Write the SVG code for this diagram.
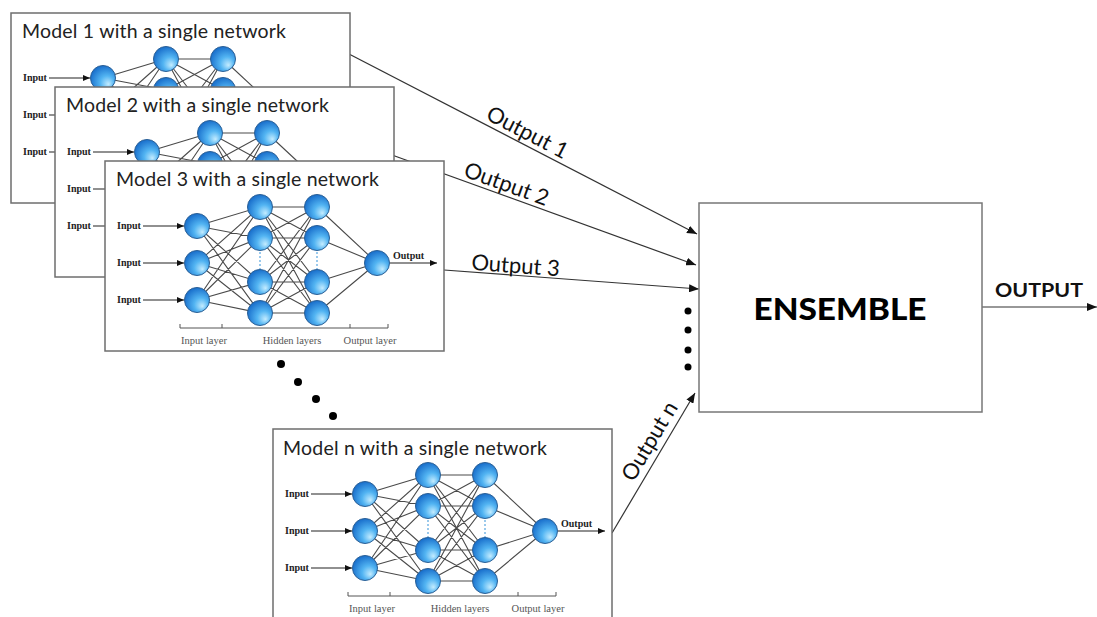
<svg xmlns="http://www.w3.org/2000/svg" xmlns:xlink="http://www.w3.org/1999/xlink" width="1097" height="617" viewBox="0 0 1097 617">
<style>
.box{fill:#fff;stroke:#6e6e6e;stroke-width:1.5}
.edge{fill:none;stroke:#4a4a4a;stroke-width:1.1}
.node{fill:url(#nodeGrad);stroke:#2a5f95;stroke-width:1}
.dots{fill:none;stroke:#7ab8e6;stroke-width:1.5;stroke-dasharray:2 2}
.ilab{font-family:"Liberation Serif",serif;font-weight:bold;font-size:10px;fill:#222}
.llab{font-family:"Liberation Serif",serif;font-size:10.5px;fill:#555;text-anchor:middle}
.iarr{fill:none;stroke:#222;stroke-width:1.1;marker-end:url(#sarrow)}
.brk{fill:none;stroke:#555;stroke-width:1}
.title{font-family:Lato,"Open Sans",sans-serif;font-size:19.5px;fill:#222}
.conn{fill:none;stroke:#333;stroke-width:1.2;marker-end:url(#barrow)}
.olab{font-family:Lato,"Open Sans",sans-serif;font-size:22px;fill:#111;text-anchor:middle}
.dot{fill:#000}
</style>
<defs>
<radialGradient id="nodeGrad" cx="0.6" cy="0.62" r="0.62" fx="0.72" fy="0.75">
<stop offset="0" stop-color="#c4ecff"/>
<stop offset="0.45" stop-color="#52b4f2"/>
<stop offset="1" stop-color="#1a70cc"/>
</radialGradient>
<marker id="sarrow" markerUnits="userSpaceOnUse" markerWidth="8" markerHeight="6" refX="7" refY="3" orient="auto">
<path d="M0,0 L7,3 L0,6 z" fill="#111"/>
</marker>
<marker id="barrow" markerUnits="userSpaceOnUse" markerWidth="11" markerHeight="8" refX="10" refY="4" orient="auto">
<path d="M0,0 L10,4 L0,8 z" fill="#111"/>
</marker>
<g id="net">
<rect class="box" x="0" y="0" width="339" height="190"/>
<path class="edge" d="M92 65L155 46M92 65L155 77M92 65L155 121M92 65L155 152M92 102L155 46M92 102L155 77M92 102L155 121M92 102L155 152M92 139L155 46M92 139L155 77M92 139L155 121M92 139L155 152M155 46L212 46M155 46L212 77M155 46L212 121M155 46L212 152M155 77L212 46M155 77L212 77M155 77L212 121M155 77L212 152M155 121L212 46M155 121L212 77M155 121L212 121M155 121L212 152M155 152L212 46M155 152L212 77M155 152L212 121M155 152L212 152M212 46L272 102M212 77L272 102M212 121L272 102M212 152L272 102"/>
<path class="dots" d="M155 91V108M212 91V108"/>
<circle class="node" cx="92" cy="65" r="12.5"/>
<circle class="node" cx="92" cy="102" r="12.5"/>
<circle class="node" cx="92" cy="139" r="12.5"/>
<circle class="node" cx="155" cy="46" r="12.5"/>
<circle class="node" cx="155" cy="77" r="12.5"/>
<circle class="node" cx="155" cy="121" r="12.5"/>
<circle class="node" cx="155" cy="152" r="12.5"/>
<circle class="node" cx="212" cy="46" r="12.5"/>
<circle class="node" cx="212" cy="77" r="12.5"/>
<circle class="node" cx="212" cy="121" r="12.5"/>
<circle class="node" cx="212" cy="152" r="12.5"/>
<circle class="node" cx="272" cy="102" r="12.5"/>
<text class="ilab" x="12" y="68">Input</text>
<text class="ilab" x="12" y="105">Input</text>
<text class="ilab" x="12" y="142">Input</text>
<path class="iarr" d="M38 65H79"/>
<path class="iarr" d="M38 102H79"/>
<path class="iarr" d="M38 139H79"/>
<path class="iarr" d="M285 102H332"/>
<text class="ilab" x="288" y="98">Output</text>
<path class="brk" d="M75 163V167H283V163M117 167V163M245 167V163"/>
<text class="llab" x="99" y="183">Input layer</text>
<text class="llab" x="187" y="183">Hidden layers</text>
<text class="llab" x="265" y="183">Output layer</text>
</g>
</defs>
<g id="connectors">
<path class="conn" d="M349 54L697 234"/>
<path class="conn" d="M392 155L696 265"/>
<path class="conn" d="M444 270L699 289"/>
<path class="conn" d="M612 533L695 393"/>
<path class="conn" d="M982 307L1097 307"/>
<text class="olab" transform="translate(524 139) rotate(27.3)">Output 1</text>
<text class="olab" transform="translate(504 191) rotate(19.9)">Output 2</text>
<text class="olab" transform="translate(515 273) rotate(4.3)">Output 3</text>
<text class="olab" transform="translate(656 445) rotate(-59.3)">Output n</text>
<circle class="dot" cx="688" cy="311" r="3.5"/>
<circle class="dot" cx="688" cy="330" r="3.5"/>
<circle class="dot" cx="688" cy="350" r="3.5"/>
<circle class="dot" cx="688" cy="367" r="3.5"/>
</g>
<g id="model1" transform="translate(11 13)">
<use xlink:href="#net" href="#net"/>
<text class="title" x="11" y="25" textLength="264">Model 1 with a single network</text>
</g>
<g id="model2" transform="translate(55 87)">
<use xlink:href="#net" href="#net"/>
<text class="title" x="11" y="25" textLength="263">Model 2 with a single network</text>
</g>
<g id="model3" transform="translate(105 161)">
<use xlink:href="#net" href="#net"/>
<text class="title" x="11" y="25" textLength="263">Model 3 with a single network</text>
</g>
<g id="model-dots">
<circle class="dot" cx="281" cy="364" r="4"/>
<circle class="dot" cx="298" cy="382" r="4"/>
<circle class="dot" cx="316" cy="399" r="4"/>
<circle class="dot" cx="333" cy="416" r="4"/>
</g>
<g id="modeln" transform="translate(273 429)">
<use xlink:href="#net" href="#net"/>
<text class="title" x="10" y="26" textLength="264">Model n with a single network</text>
</g>
<g id="ensemble">
<rect x="699" y="203" width="283" height="209" fill="#fff" stroke="#777" stroke-width="1.5"/>
<text x="840" y="320" text-anchor="middle" font-family="Lato, Liberation Sans, sans-serif" font-weight="900" font-size="31" textLength="173" lengthAdjust="spacingAndGlyphs" fill="#000">ENSEMBLE</text>
</g>
<text id="output-label" x="995" y="297" font-family="Lato, Liberation Sans, sans-serif" font-weight="bold" font-size="19" textLength="88" lengthAdjust="spacingAndGlyphs" fill="#111">OUTPUT</text>
</svg>
